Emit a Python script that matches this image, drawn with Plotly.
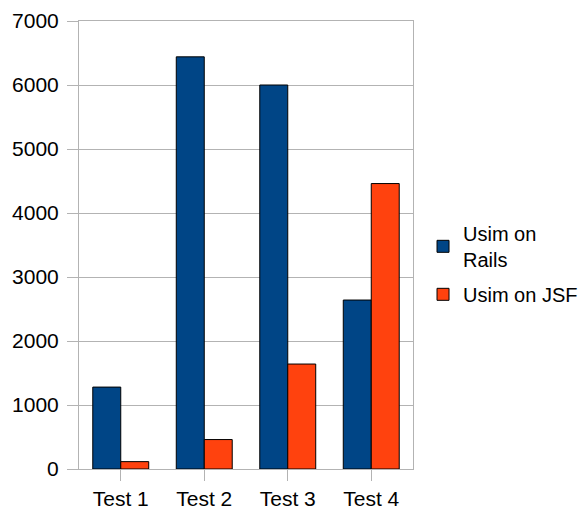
import plotly.graph_objects as go

categories = ["Test 1", "Test 2", "Test 3", "Test 4"]
rails = [1280, 6440, 6000, 2640]
jsf = [115, 460, 1640, 4460]
series_names = ["Usim on<br>Rails", "Usim on JSF"]
y_ticks = [0, 1000, 2000, 3000, 4000, 5000, 6000, 7000]

grid = "#b3b3b3"
fig = go.Figure()
fig.add_trace(go.Bar(x=categories, y=rails, name=series_names[0], legendgroup="a",
                     marker=dict(color="#004586", line=dict(color="#000000", width=1))))
fig.add_trace(go.Bar(x=categories, y=jsf, name=series_names[1], legendgroup="b",
                     marker=dict(color="#ff420e", line=dict(color="#000000", width=1))))

fig.update_layout(
    width=580, height=514,
    margin=dict(l=79, r=167, t=21, b=45, autoexpand=False),
    paper_bgcolor="white", plot_bgcolor="white",
    barmode="group", bargap=0.33, bargroupgap=0,
    font=dict(family="Liberation Sans", size=21, color="black"),
    legend=dict(x=1.03, y=0.458, xanchor="left", yanchor="middle",
                font=dict(size=20), traceorder="grouped", tracegroupgap=6, itemwidth=30),
    showlegend=True,
)
fig.update_xaxes(showline=True, linecolor=grid, linewidth=1, mirror=True,
                 ticks="outside", ticklen=11, tickcolor=grid, showgrid=False,
                 automargin=False)
fig.update_yaxes(range=[0, 7000], tickvals=y_ticks, showline=True, linecolor=grid,
                 linewidth=1, mirror=True, ticks="outside", ticklen=11, tickcolor=grid,
                 gridcolor=grid, gridwidth=1, zeroline=False, automargin=False,
                 ticklabelstandoff=4)

fig.write_html("out.html", config={"displayModeBar": False},
               post_script="document.body.style.margin='0';document.body.style.overflow='hidden';")
